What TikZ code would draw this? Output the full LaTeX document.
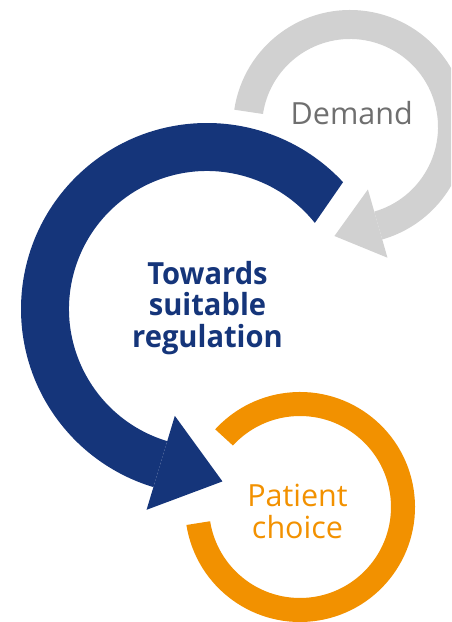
\documentclass[tikz,border=0pt]{standalone}
\usepackage{fontspec}
\setmainfont{Open Sans}[BoldFeatures={FakeStretch=0.955}]
\usetikzlibrary{calc}
\definecolor{ringgray}{HTML}{D1D1D1}
\definecolor{textgray}{HTML}{6F6F6F}
\definecolor{navy}{HTML}{15357A}
\definecolor{amber}{HTML}{F29100}
\begin{document}
\begin{tikzpicture}[x=1pt,y=1pt,
  label base/.style={inner sep=0pt, align=center},
  demandtext/.style={label base, text=textgray, font=\fontsize{30.5}{31.7}\selectfont},
  regtext/.style={label base, text=navy, font=\bfseries\fontsize{30.5}{31.7}\selectfont},
  choicetext/.style={label base, text=amber, font=\fontsize{30.5}{31.6}\selectfont}]
\useasboundingbox (0,0) rectangle (451,622);
\clip (0,0) rectangle (451,622);

% centres of the three loops
\coordinate (gc) at (350,495);
\coordinate (bc) at (207,313);
\coordinate (oc) at (300,115);

% grey loop (Demand) with its arrow head
\fill[ringgray] ($(gc)+(171.5:117)$) arc[start angle=171.5,end angle=-74,radius=117]
  -- ($(gc)+(-74:88)$) arc[start angle=-74,end angle=171.5,radius=88] -- cycle;
\fill[ringgray] ($(gc)+(-74:65)$) -- ($(gc)+(-74:136)$)
  -- ($(gc)+(-74:100.5)+(-164:45)$) -- cycle;

% blue loop (regulation) with its arrow head
\fill[navy] ($(bc)+(43:186)$) arc[start angle=43,end angle=253.25,radius=186]
  -- ($(bc)+(253.25:138)$) arc[start angle=253.25,end angle=38.6,radius=138] -- cycle;
\fill[navy] ($(bc)+(253.25:111.6)$) -- ($(bc)+(253.25:209.7)$)
  -- ($(bc)+(253.25:160.65)+(343.25:64.5)$) -- cycle;

% orange ring (patient choice)
\fill[amber] ($(oc)+(189:115)$) arc[start angle=189,end angle=497.5,radius=115]
  -- ($(oc)+(137.5:91)$) arc[start angle=497.5,end angle=189,radius=91] -- cycle;

% labels
\node[demandtext, anchor=base] (demand) at (351.7,497) {Demand};
\node[regtext] (reg) at (207.5,314) {Towards\\suitable\\regulation};
\node[choicetext] (choice) at (297.5,110.5) {Patient\\choice};
\end{tikzpicture}
\end{document}
